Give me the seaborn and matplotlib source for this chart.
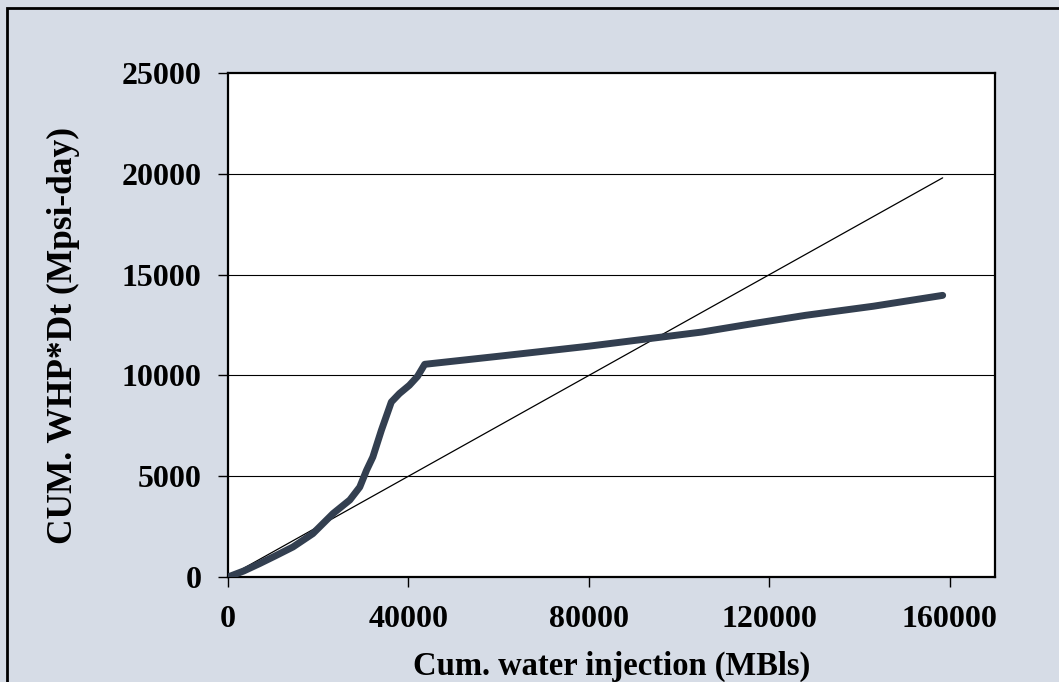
import matplotlib
matplotlib.use("Agg")
import matplotlib.pyplot as plt
import matplotlib.patches as mpatches
import seaborn as sns
import pandas as pd

# Cumulative water injection (MBls) vs cumulative WHP*Dt (Mpsi-day)
cum_injection = [0, 3500, 7000, 10500, 14400, 18800, 23300, 27000, 29200, 30700,
                 32100, 34000, 36200, 38000, 40200, 42000, 43600, 60000, 80000,
                 95000, 105000, 115000, 128000, 143000, 158400]
cum_whp_dt = [0, 300, 665, 1050, 1490, 2150, 3150, 3820, 4460, 5290,
              5950, 7280, 8680, 9100, 9510, 9950, 10550, 10950, 11450,
              11870, 12150, 12520, 12980, 13430, 13970]

# Reference straight line through the origin
ref_x = [0, 158400]
ref_y = [0, 19800]

x_ticks = [0, 40000, 80000, 120000, 160000]
y_ticks = [0, 5000, 10000, 15000, 20000, 25000]

sns.set_style("white")
plt.rcParams["font.family"] = ["Liberation Serif", "DejaVu Serif"]
plt.rcParams["font.weight"] = "bold"

W, H = 1059, 682
fig = plt.figure(figsize=(W / 100, H / 100), dpi=100)
fig.patch.set_facecolor("#d6dce6")
ax = fig.add_axes([228 / W, 1 - 577 / H, (995 - 228) / W, (577 - 73) / H])
ax.set_facecolor("white")

df_main = pd.DataFrame({"x": cum_injection, "y": cum_whp_dt})
df_ref = pd.DataFrame({"x": ref_x, "y": ref_y})

for y in y_ticks[1:-1]:
    ax.axhline(y, color="black", lw=0.8, zorder=1)

sns.lineplot(data=df_ref, x="x", y="y", ax=ax, color="black", lw=0.9,
             sort=False, estimator=None, zorder=2)
sns.lineplot(data=df_main, x="x", y="y", ax=ax, color="#333f50", lw=5,
             sort=False, estimator=None, zorder=3, solid_capstyle="round",
             solid_joinstyle="round")

ax.set_xlim(0, 170000)
ax.set_ylim(0, 25000)
ax.set_xticks(x_ticks)
ax.set_yticks(y_ticks)
ax.set_xticklabels([str(v) for v in x_ticks])
ax.set_yticklabels([str(v) for v in y_ticks])

for s in ax.spines.values():
    s.set_color("black")
    s.set_linewidth(1.6)
ax.tick_params(axis="both", which="major", direction="out", length=7, width=1,
               color="black", labelsize=23, labelcolor="black")
ax.tick_params(axis="y", pad=12)
ax.tick_params(axis="x", pad=13)
ax.xaxis.set_ticks_position("bottom")
ax.yaxis.set_ticks_position("left")

ax.set_xlabel("Cum. water injection (MBls)", fontsize=23.5, fontweight="bold", color="black")
ax.set_ylabel("CUM. WHP*Dt (Mpsi-day)", fontsize=25.5, fontweight="bold", color="black")
ax.xaxis.set_label_coords(0.5, -0.146)
ax.yaxis.set_label_coords(-0.193, 0.48)

# Chart frame
fig.patches.append(mpatches.Rectangle((7 / W, -0.1), 2, 1 - 8 / H + 0.1,
                                      transform=fig.transFigure, fill=False,
                                      edgecolor="black", lw=2, zorder=10))

fig.savefig("out.png", dpi=100, facecolor=fig.get_facecolor())
